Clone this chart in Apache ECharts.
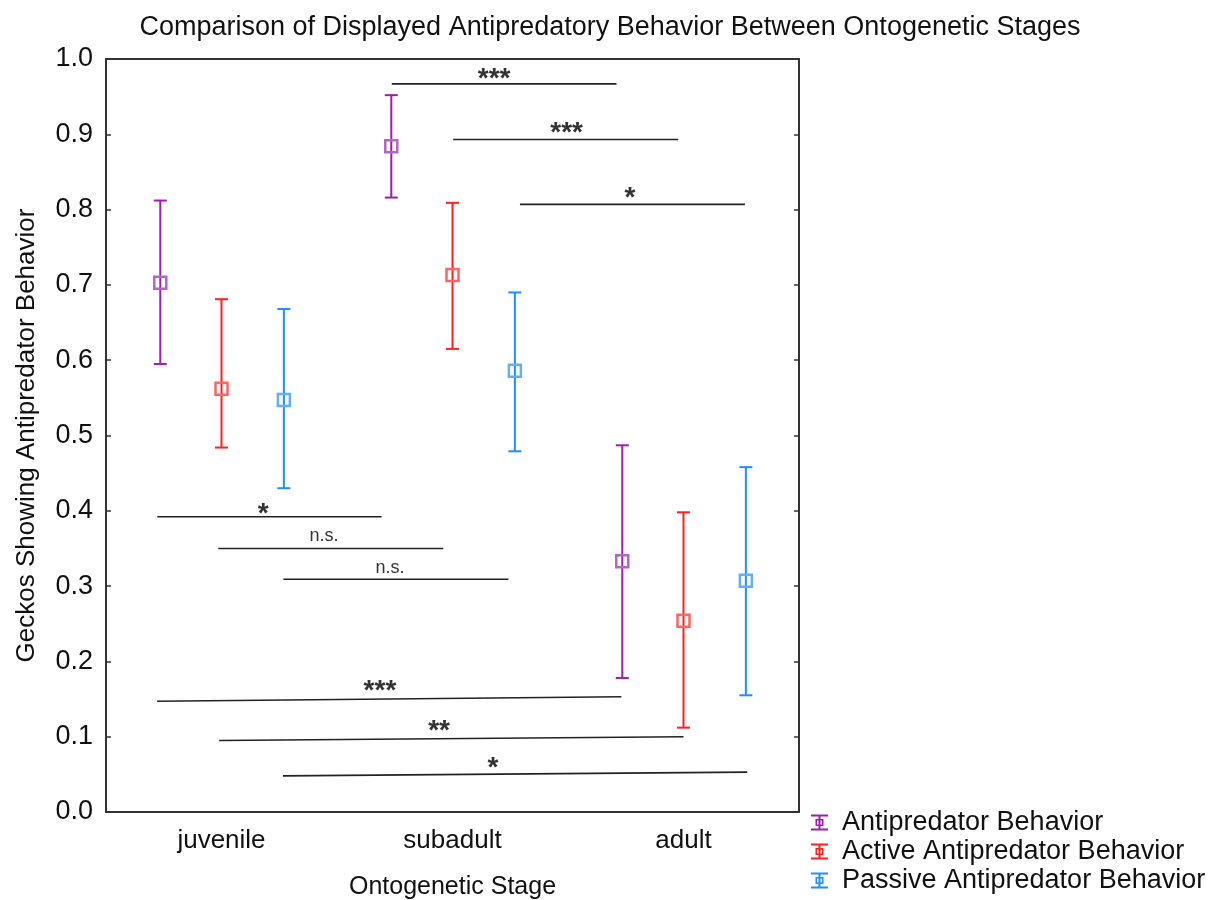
<!DOCTYPE html>
<html><head><meta charset="utf-8">
<script src="https://cdn.jsdelivr.net/npm/echarts@6/dist/echarts.min.js"></script>
<style>html,body{margin:0;padding:0;background:#fff}#c{width:1220px;height:900px}</style>
</head><body><div id="c"></div>
<script>
const stages = ['juvenile', 'subadult', 'adult'];
const seriesNames = ['Antipredator Behavior', 'Active Antipredator Behavior', 'Passive Antipredator Behavior'];

const antiMean = [0.703, 0.884, 0.333];
const antiLow  = [0.595, 0.816, 0.178];
const antiHigh = [0.812, 0.952, 0.487];

const activeMean = [0.562, 0.713, 0.254];
const activeLow  = [0.484, 0.615, 0.112];
const activeHigh = [0.681, 0.809, 0.398];

const passiveMean = [0.547, 0.586, 0.307];
const passiveLow  = [0.430, 0.479, 0.155];
const passiveHigh = [0.668, 0.690, 0.458];

const yTickValues = [0, 0.1, 0.2, 0.3, 0.4, 0.5, 0.6, 0.7, 0.8, 0.9, 1.0];

// significance brackets (x in stage-index units, y in data units)
const sigText   = ['***', '***', '*', '*', 'n.s.', 'n.s.', '***', '**', '*'];
const sigStartX = [0.737, 1.003, 1.292, -0.278, -0.014, 0.268, -0.279, -0.010, 0.266];
const sigStartY = [0.967, 0.893, 0.807, 0.392, 0.350, 0.309, 0.147, 0.095, 0.048];
const sigEndX   = [1.710, 1.977, 2.266, 0.693, 0.960, 1.242, 1.731, 2.000, 2.276];
const sigEndY   = [0.967, 0.893, 0.807, 0.392, 0.350, 0.309, 0.153, 0.100, 0.053];
const sigLabelX = [1.180, 1.494, 1.768, 0.180, 0.444, 0.729, 0.686, 0.942, 1.175];
const sigLabelY = [0.983, 0.910, 0.824, 0.405, 0.366, 0.324, 0.170, 0.117, 0.067];

const FONT = "'Liberation Sans', Arial, sans-serif";
const lineColors = ['#a21caf', '#ff1f1f', '#1e8fff'];
const markColors = ['#b266c2', '#ff6464', '#62aefc'];
const offsets = [-0.265, 0, 0.27];

function errRender(k) {
  return function (params, api) {
    const x = api.value(0) + offsets[k];
    const pm = api.coord([x, api.value(1)]);
    const pl = api.coord([x, api.value(2)]);
    const ph = api.coord([x, api.value(3)]);
    const cw = 6.5, ms = 6;
    const ls = { stroke: lineColors[k], lineWidth: 2 };
    return {
      type: 'group', children: [
        { type: 'line', shape: { x1: pl[0], y1: pl[1], x2: ph[0], y2: ph[1] }, style: ls },
        { type: 'line', shape: { x1: ph[0] - cw, y1: ph[1], x2: ph[0] + cw, y2: ph[1] }, style: ls },
        { type: 'line', shape: { x1: pl[0] - cw, y1: pl[1], x2: pl[0] + cw, y2: pl[1] }, style: ls },
        { type: 'rect', shape: { x: pm[0] - ms, y: pm[1] - ms, width: 2 * ms, height: 2 * ms },
          style: { fill: 'none', stroke: markColors[k], lineWidth: 2.5 } }
      ]
    };
  };
}

function mk(mean, lo, hi) { return stages.map((s, i) => [i, mean[i], lo[i], hi[i]]); }
const errData = [mk(antiMean, antiLow, antiHigh), mk(activeMean, activeLow, activeHigh), mk(passiveMean, passiveLow, passiveHigh)];

const sigData = sigText.map((t, i) => [sigStartX[i], sigStartY[i], sigEndX[i], sigEndY[i], sigLabelX[i], sigLabelY[i]]);

function sigRender(params, api) {
  const p1 = api.coord([api.value(0), api.value(1)]);
  const p2 = api.coord([api.value(2), api.value(3)]);
  const pt = api.coord([api.value(4), api.value(5)]);
  const txt = sigText[params.dataIndex];
  const isStar = txt.indexOf('*') >= 0;
  const fs = isStar ? 28 : 18;
  return {
    type: 'group', children: [
      { type: 'line', shape: { x1: p1[0], y1: p1[1], x2: p2[0], y2: p2[1] }, style: { stroke: '#222', lineWidth: 1.6 } },
      { type: 'text', x: pt[0], y: pt[1] + (isStar ? 0.25 * fs : 0),
        style: { text: txt, align: 'center', verticalAlign: 'middle', fill: '#333',
          font: (isStar ? 'bold ' : '') + fs + 'px ' + FONT } }
    ]
  };
}

const iconPath = 'path://M0,0H17V2H0Z M7.5,0H9.5V16H7.5Z M0,14H17V16H0Z M4.5,4.5H12.5V11.5H4.5Z M6,6V10H11V6Z';

const option = {
  animation: false,
  backgroundColor: '#fff',
  textStyle: { fontFamily: FONT },
  title: {
    text: 'Comparison of Displayed Antipredatory Behavior Between Ontogenetic Stages',
    left: 'center', top: 9,
    textStyle: { fontSize: 27, fontWeight: 'normal', color: '#111', fontFamily: FONT }
  },
  legend: {
    orient: 'vertical', left: 811, top: 808, padding: 0, itemWidth: 17, itemHeight: 17, itemGap: 0,
    data: seriesNames.map(n => ({ name: n, icon: iconPath })),
    textStyle: { fontSize: 27, color: '#111', fontFamily: FONT, lineHeight: 29, padding: [0, 0, 0, 9] },
    itemStyle: { borderWidth: 0 }
  },
  grid: { left: 106, right: 421, top: 59, bottom: 88, show: false, outerBoundsMode: 'none', containLabel: false },
  xAxis: [
    { type: 'category', data: stages, position: 'bottom', boundaryGap: true,
      axisLine: { onZero: false, lineStyle: { color: '#333', width: 2 } },
      axisTick: { inside: true, alignWithLabel: true, length: 5, lineStyle: { color: '#333', width: 1.5 } },
      axisLabel: { fontSize: 26, color: '#111', margin: 16, fontFamily: FONT },
      name: 'Ontogenetic Stage', nameLocation: 'middle', nameGap: 63,
      nameTextStyle: { fontSize: 25, color: '#111', fontFamily: FONT },
      splitLine: { show: false } },
    { type: 'value', min: -0.5, max: 2.5, show: false },
    { type: 'category', data: stages, position: 'top', boundaryGap: true,
      axisLine: { onZero: false, lineStyle: { color: '#333', width: 2 } },
      axisTick: { inside: true, alignWithLabel: true, length: 5, lineStyle: { color: '#333', width: 1.5 } },
      axisLabel: { show: false }, splitLine: { show: false } }
  ],
  yAxis: [
    { type: 'value', min: 0, max: 1, interval: 0.1,
      axisLine: { show: true, onZero: false, lineStyle: { color: '#333', width: 2 } },
      axisTick: { show: true, inside: true, length: 5, lineStyle: { color: '#333', width: 1.5 } },
      axisLabel: { fontSize: 27, color: '#111', margin: 13, fontFamily: FONT,
        formatter: v => yTickValues.indexOf(Math.round(v * 10) / 10) >= 0 ? v.toFixed(1) : '' },
      splitLine: { show: false },
      name: 'Geckos Showing Antipredator Behavior', nameLocation: 'middle', nameGap: 66,
      nameTextStyle: { fontSize: 26, color: '#111', fontFamily: FONT } },
    { type: 'value', min: 0, max: 1, interval: 0.1, position: 'right',
      axisLine: { show: true, onZero: false, lineStyle: { color: '#333', width: 2 } },
      axisTick: { show: true, inside: true, length: 5, lineStyle: { color: '#333', width: 1.5 } },
      axisLabel: { show: false }, splitLine: { show: false } }
  ],
  series: [
    ...seriesNames.map((n, k) => ({
      name: n, type: 'custom', xAxisIndex: 1, yAxisIndex: 0,
      itemStyle: { color: lineColors[k] },
      encode: { x: 0, y: [1, 2, 3] },
      renderItem: errRender(k), data: errData[k], z: 3
    })),
    { name: 'sig', type: 'custom', xAxisIndex: 1, yAxisIndex: 0, encode: { x: [0, 2], y: [1, 3] },
      renderItem: sigRender, data: sigData, z: 2, silent: true }
  ]
};

const chart = echarts.init(document.getElementById('c'), null, { renderer: 'canvas' });
chart.setOption(option);
</script>
</body></html>
